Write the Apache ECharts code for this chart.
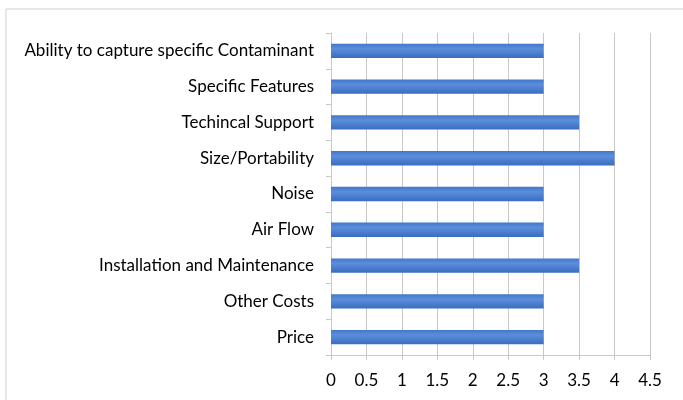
<!DOCTYPE html>
<html>
<head>
<meta charset="utf-8">
<script src="https://cdn.jsdelivr.net/npm/echarts@6/dist/echarts.min.js"></script>
<style>
html,body{margin:0;padding:0;background:#fff;}
#chart{width:683px;height:400px;}
</style>
</head>
<body>
<div id="chart"></div>
<script>
const categories = ["Price", "Other Costs", "Installation and Maintenance", "Air Flow", "Noise", "Size/Portability", "Techincal Support", "Specific Features", "Ability to capture specific Contaminant"];
const values = [3, 3, 3.5, 3, 3, 4, 3.5, 3, 3];
const xMin = 0, xMax = 4.5, xStep = 0.5;

const chart = echarts.init(document.getElementById('chart'), null, {renderer: 'canvas'});
const font = 'Lato';
chart.setOption({
  animation: false,
  backgroundColor: '#ffffff',
  graphic: [{
    type: 'rect',
    shape: {x: 6, y: 9, width: 700, height: 420},
    style: {fill: 'none', stroke: '#d0d0d0', lineWidth: 1}
  }],
  grid: {left: 331, right: 33, top: 33, bottom: 45, containLabel: false},
  xAxis: {
    type: 'value',
    min: xMin, max: xMax, interval: xStep,
    axisLine: {show: true, lineStyle: {color: '#c8c8c8'}},
    axisTick: {show: true, length: 5, lineStyle: {color: '#c8c8c8'}},
    splitLine: {show: true, lineStyle: {color: '#c8c8c8'}},
    axisLabel: {color: '#000', fontFamily: font, fontSize: 17, margin: 17}
  },
  yAxis: {
    type: 'category',
    data: categories,
    axisLine: {show: true, lineStyle: {color: '#c8c8c8'}},
    axisTick: {show: true, length: 5, lineStyle: {color: '#c8c8c8'}},
    axisLabel: {color: '#000', fontFamily: font, fontSize: 17, margin: 17}
  },
  series: [{
    type: 'bar',
    data: values,
    barWidth: '40%',
    itemStyle: {
      color: new echarts.graphic.LinearGradient(0, 0, 0, 1, [
        {offset: 0, color: '#4177cc'},
        {offset: 0.35, color: '#5b8edb'},
        {offset: 1, color: '#3a6cc0'}
      ])
    }
  }]
});
</script>
</body>
</html>
